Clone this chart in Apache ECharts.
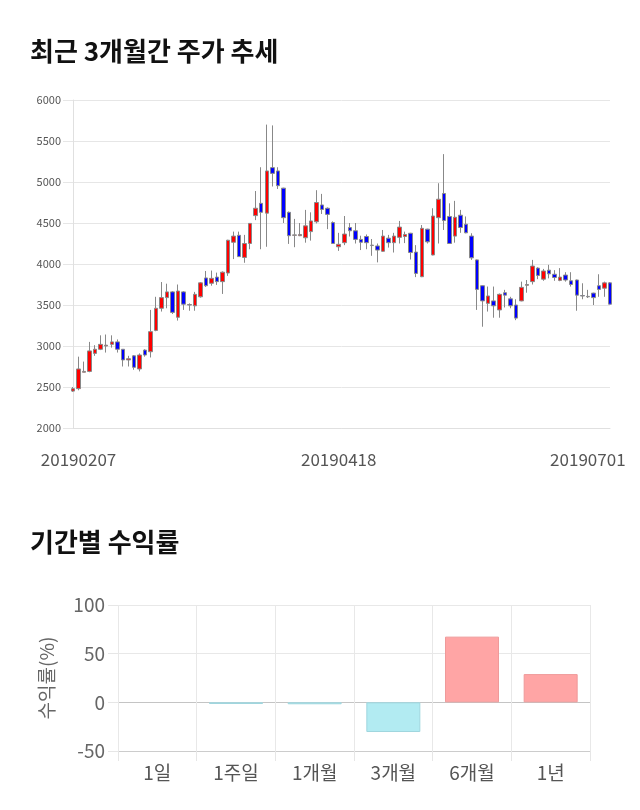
<!DOCTYPE html>
<html><head><meta charset="utf-8">
<script src="https://cdn.jsdelivr.net/npm/echarts@6/dist/echarts.min.js"></script>
<style>html,body{margin:0;padding:0;background:#fff}#c{width:640px;height:810px}</style>
</head><body><div id="c"></div>
<script>
const dates = ['20190201','20190207','20190208','20190211','20190212','20190213','20190214','20190215','20190218','20190219',
'20190220','20190221','20190222','20190225','20190226','20190227','20190228','20190304','20190305','20190306',
'20190307','20190308','20190311','20190312','20190313','20190314','20190315','20190318','20190319','20190320',
'20190321','20190322','20190325','20190326','20190327','20190328','20190329','20190401','20190402','20190403',
'20190404','20190405','20190408','20190409','20190410','20190411','20190412','20190415','20190418','20190419',
'20190422','20190423','20190424','20190425','20190426','20190429','20190430','20190502','20190503','20190507',
'20190508','20190509','20190510','20190513','20190514','20190515','20190516','20190517','20190520','20190521',
'20190522','20190523','20190524','20190527','20190528','20190529','20190530','20190531','20190603','20190604',
'20190605','20190607','20190610','20190611','20190612','20190613','20190614','20190617','20190619','20190620',
'20190624','20190626','20190628','20190701','20190702','20190703','20190704','20190705'];
const opens = [2450,2480,2680,2690,2910,2960,3000,3020,3050,2960,2830,2880,2720,2950,2930,3190,3460,3590,3660,3350,
3660,3500,3490,3600,3830,3765,3840,3785,3890,4265,4350,4080,4250,4590,4740,4620,5175,5135,4925,4630,
4350,4345,4320,4395,4515,4720,4680,4505,4210,4260,4445,4405,4300,4335,4230,4220,4155,4315,4260,4325,
4335,4375,4145,3845,4425,4110,4565,4860,4580,4340,4595,4485,4340,4050,3735,3520,3550,3440,3650,3575,
3500,3550,3740,3785,3950,3815,3925,3875,3800,3865,3795,3805,3615,3605,3645,3735,3705,3770];
const closes = [2480,2720,2690,2940,2960,3020,3010,3050,2960,2830,2845,2740,2890,2890,3175,3460,3590,3660,3410,3670,
3510,3505,3630,3770,3735,3825,3785,3900,4290,4340,4090,4250,4495,4680,4630,5135,5105,4955,4565,4345,
4355,4360,4465,4525,4750,4665,4605,4250,4240,4365,4405,4300,4265,4260,4225,4170,4340,4260,4340,4450,
4360,4140,3885,4435,4270,4585,4790,4530,4250,4570,4445,4380,4075,3690,3550,3610,3490,3630,3620,3490,
3340,3715,3750,3975,3860,3915,3880,3835,3840,3805,3750,3620,3610,3600,3590,3690,3770,3510];
const lows = [2440,2460,2680,2680,2880,2950,2920,2980,2920,2750,2750,2710,2690,2870,2860,3180,3420,3460,3390,3310,
3440,3430,3430,3590,3720,3735,3745,3635,3855,4060,4085,4015,4180,4535,4180,4210,4945,4915,4500,4245,
4205,4340,4260,4285,4495,4610,4425,4245,4160,4230,4335,4250,4170,4180,4100,4020,4150,4200,4140,4250,
4255,4055,3840,3840,4250,4105,4250,4415,4250,4260,4380,4375,4050,3440,3235,3420,3345,3345,3470,3460,
3315,3545,3650,3750,3815,3795,3825,3795,3790,3785,3725,3430,3570,3585,3500,3600,3600,3510];
const highs = [2500,2870,2810,3050,3010,3130,3140,3130,3080,2960,2880,2890,2910,2960,3440,3600,3780,3760,3670,3750,
3670,3520,3660,3780,3915,3920,3895,3910,4295,4395,4395,4355,4500,4890,5180,5700,5690,5180,4930,4640,
4550,4500,4660,4630,4900,4855,4690,4520,4380,4585,4500,4500,4345,4360,4305,4250,4415,4355,4380,4525,
4395,4380,4230,4475,4430,4680,4985,5340,4740,4770,4660,4580,4375,4055,3740,3725,3725,3640,3685,3600,
3570,3785,3805,4050,3960,3940,3990,3925,3950,3900,3900,3810,3765,3685,3650,3875,3785,3780];
const dateTickLabels = ['20190207','20190418','20190701'];

const periods = ['1일','1주일','1개월','3개월','6개월','1년'];
const returns = [0, -1.7, -2, -30.5, 67.5, 29];

const FONT = "'Noto Sans CJK KR','Noto Sans',sans-serif";
const chart = echarts.init(document.getElementById('c'), null, {renderer:'canvas'});
chart.setOption({
  animation: false,
  backgroundColor: '#fff',
  textStyle: {fontFamily: FONT},
  title: [
    {text:'최근 3개월간 주가 추세', left:30, top:38, padding:0, textStyle:{fontSize:26, fontWeight:'bold', color:'#111', fontFamily:FONT}},
    {text:'기간별 수익률', left:30, top:529, padding:0, textStyle:{fontSize:26, fontWeight:'bold', color:'#111', fontFamily:FONT}}
  ],
  grid: [
    {left:73, right:30, top:100, height:328},
    {left:118, right:50, top:605, height:146}
  ],
  xAxis: [
    {type:'category', gridIndex:0, data:dates, boundaryGap:false,
     axisLine:{show:true, lineStyle:{color:'#e0e0e0'}}, axisTick:{show:false},
     axisLabel:{interval:(i,v)=>dateTickLabels.includes(v), color:'#555', fontSize:17, margin:23, fontFamily:FONT, hideOverlap:false},
     splitLine:{show:false}},
    {type:'category', gridIndex:1, data:periods,
     axisLine:{show:true, onZero:false, lineStyle:{color:'#ccc'}},
     axisTick:{show:true, length:10, lineStyle:{color:'#e6e6e6'}},
     axisLabel:{color:'#555', fontSize:19, margin:12, fontFamily:FONT},
     splitLine:{show:true, lineStyle:{color:'#e8e8e8'}}}
  ],
  yAxis: [
    {type:'value', gridIndex:0, min:2000, max:6000, interval:500,
     axisLine:{show:true, lineStyle:{color:'#e0e0e0'}},
     axisTick:{show:true, length:10, lineStyle:{color:'#e6e6e6'}},
     axisLabel:{color:'#555', fontSize:11, margin:12, fontFamily:FONT, formatter:v=>String(v)},
     splitLine:{lineStyle:{color:'#e6e6e6'}}},
    {type:'value', gridIndex:1, min:-50, max:100, interval:50,
     axisLine:{show:false},
     axisTick:{show:true, length:10, lineStyle:{color:'#e6e6e6'}},
     axisLabel:{color:'#666', fontSize:19, margin:13, fontFamily:FONT, formatter:v=>String(v)},
     name:'수익률(%)', nameLocation:'middle', nameGap:62, nameRotate:90,
     nameTextStyle:{color:'#666', fontSize:19, fontFamily:FONT},
     splitLine:{lineStyle:{color:['#ccc','#c4c4c4','#e8e8e8','#e8e8e8']}}}
  ],
  series: [
    {type:'candlestick', xAxisIndex:0, yAxisIndex:0, clip:true, barWidth:4,
     data: dates.map((d,i)=>[opens[i], closes[i], lows[i], highs[i]]),
     itemStyle:{color:'#ff0000', color0:'#0000ff', borderColor:'#888', borderColor0:'#888', borderWidth:1}},
    {type:'bar', xAxisIndex:1, yAxisIndex:1, barWidth:54,
     data: returns.map(v=>({value:v, itemStyle: v===0
       ? {color:'rgba(0,0,0,0)', borderWidth:0}
       : v>0
       ? {color:'#ffa5a5', borderColor:'#ef9a9a', borderWidth:1}
       : {color:'#b2ebf2', borderColor:'#9fd6de', borderWidth:1}}))}
  ]
});
</script></body></html>
